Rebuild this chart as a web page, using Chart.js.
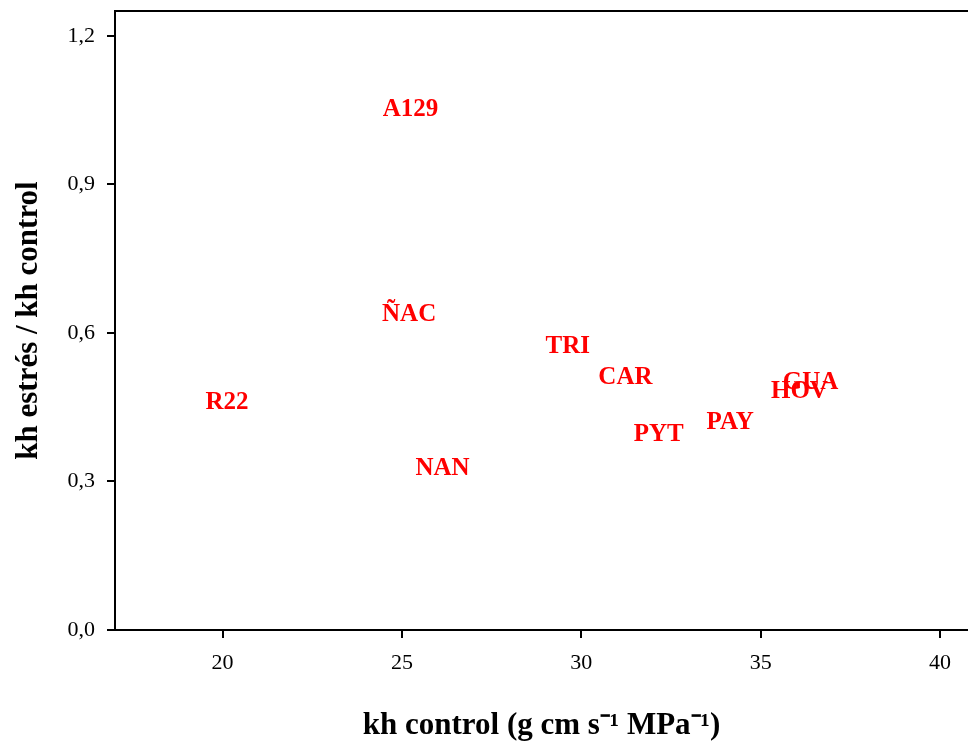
<!DOCTYPE html>
<html>
<head>
<meta charset="utf-8">
<script src="https://cdn.jsdelivr.net/npm/chart.js@4/dist/chart.umd.min.js"></script>
<style>
html,body{margin:0;padding:0;background:#fff;}
#wrap{width:968px;height:745px;}
</style>
</head>
<body>
<div id="wrap"><canvas id="c" width="968" height="745"></canvas></div>
<script>
const cultivars = ["A129","ÑAC","R22","NAN","TRI","CAR","GUA","HOV","PAY","PYT"];
const khControl = [25.24, 25.20, 20.12, 26.13, 29.62, 31.23, 36.39, 36.08, 34.15, 32.16];
const khRatio   = [1.051, 0.637, 0.460, 0.327, 0.573, 0.510, 0.500, 0.482, 0.418, 0.395];
const xTicks = [20, 25, 30, 35, 40];
const yTicks = [0, 0.3, 0.6, 0.9, 1.2];
const xTitle = "kh control (g cm s\u207B\u00B9 MPa\u207B\u00B9)";
const yTitle = "kh estrés / kh control";

const points = cultivars.map((c, i) => ({x: khControl[i], y: khRatio[i], label: c}));

const textLabels = {
  id: 'textLabels',
  afterDatasetsDraw(chart) {
    const ctx = chart.ctx;
    const meta = chart.getDatasetMeta(0);
    ctx.save();
    ctx.fillStyle = '#ff0000';
    ctx.font = 'bold 25px "Liberation Serif", serif';
    ctx.textAlign = 'center';
    ctx.textBaseline = 'middle';
    meta.data.forEach((el, i) => {
      ctx.fillText(chart.data.datasets[0].data[i].label, el.x, el.y);
    });
    ctx.restore();
  }
};

const tickFont = {family: '"Liberation Serif", serif', size: 22};
const titleFont = {family: '"Liberation Serif", serif', size: 31, weight: 'bold'};

new Chart(document.getElementById('c'), {
  type: 'scatter',
  data: {
    datasets: [{
      data: points,
      pointRadius: 0,
      pointHoverRadius: 0,
      showLine: false
    }]
  },
  options: {
    responsive: false,
    animation: false,
    events: [],
    layout: {padding: 0},
    plugins: {legend: {display: false}, tooltip: {enabled: false}},
    scales: {
      x: {
        type: 'linear',
        position: 'bottom',
        min: 17,
        max: 40.78,
        afterBuildTicks(s) { s.ticks = xTicks.map(v => ({value: v})); },
        afterFit(s) { s.height = 115; s.paddingLeft = 0; s.paddingRight = 0; },
        ticks: {font: tickFont, color: '#000', padding: 12, maxRotation: 0,
                callback: v => String(v)},
        grid: {display: true, drawOnChartArea: false, drawTicks: true, tickLength: 8,
               color: '#000', lineWidth: 2},
        border: {display: true, color: '#000', width: 2},
        title: {display: true, text: xTitle, font: titleFont, color: '#000',
                padding: {top: 33, bottom: 0}}
      },
      x2: {
        type: 'linear',
        position: 'top',
        min: 17,
        max: 40.78,
        afterFit(s) { s.height = 11; s.paddingLeft = 0; s.paddingRight = 0; },
        ticks: {display: false},
        grid: {display: false, drawTicks: false},
        border: {display: true, color: '#000', width: 2}
      },
      y: {
        type: 'linear',
        min: 0,
        max: 1.25,
        afterBuildTicks(s) { s.ticks = yTicks.map(v => ({value: v})); },
        afterFit(s) { s.width = 115; s.paddingTop = 0; s.paddingBottom = 0; },
        ticks: {font: tickFont, color: '#000', padding: 12,
                callback: v => Number(v).toFixed(1).replace('.', ',')},
        grid: {display: true, drawOnChartArea: false, drawTicks: true, tickLength: 8,
               color: '#000', lineWidth: 2},
        border: {display: true, color: '#000', width: 2},
        title: {display: true, text: yTitle, font: titleFont, color: '#000',
                padding: {top: 10, bottom: 0}}
      }
    }
  },
  plugins: [textLabels]
});
</script>
</body>
</html>
